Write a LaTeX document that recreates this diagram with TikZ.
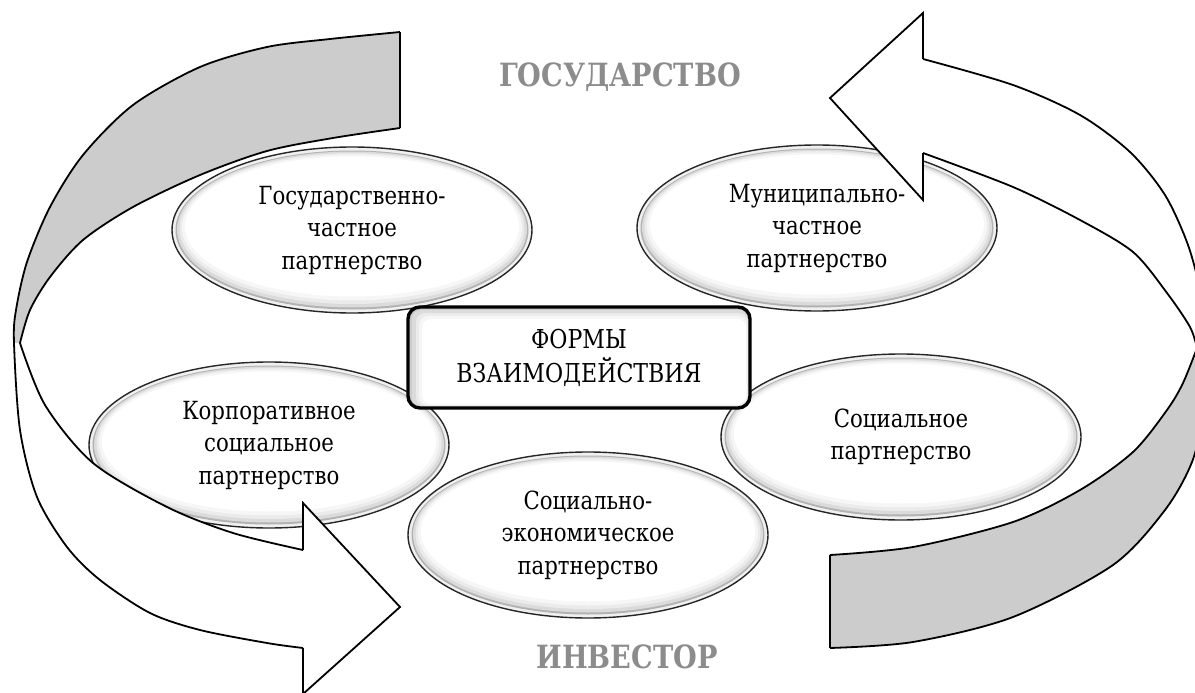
\documentclass[tikz,border=0pt]{standalone}
\usepackage{fontspec}
\setmainfont{DejaVu Serif}[FakeStretch=0.85]
\usetikzlibrary{shapes.geometric}

% soft inner rings of an ellipse
\newcommand\ellring[4]{\fill[#1] ([yshift=#4]path picture bounding box.center) ellipse [x radius=#2, y radius=#3];}
% inner shadow layers of the central box: colour, left, bottom, right, top insets
\newcommand\boxlayer[5]{\fill[#1, rounded corners=9pt] ([xshift=#2, yshift=#3]path picture bounding box.south west) rectangle ([xshift=-#4, yshift=-#5]path picture bounding box.north east);}

\tikzset{
  band/.style={fill=black!20},
  sheet/.style={fill=white},
  outline/.style={draw=black, line width=1.8pt, line join=miter},
  form/.style={ellipse, minimum width=360pt, minimum height=166pt, inner sep=0pt,
    draw=black!85, line width=1.4pt, fill=gray!12, align=center,
    font=\fontsize{25}{32.5}\selectfont,
    path picture={
      \ellring{gray!60}{176.5pt}{79.5pt}{0pt}
      \ellring{gray!28}{175pt}{78pt}{0.5pt}
      \ellring{gray!16}{172.5pt}{75.5pt}{1.5pt}
      \ellring{gray!7}{170pt}{73pt}{2.5pt}
      \ellring{white}{167pt}{70pt}{3.5pt}
    }},
  hub/.style={rectangle, rounded corners=12pt, minimum width=342pt, minimum height=101pt,
    inner sep=0pt, draw=black, line width=3.4pt, fill=gray!40, align=center,
    font=\fontsize{26}{34}\selectfont,
    path picture={
      \boxlayer{gray!28}{4pt}{1pt}{1pt}{3pt}
      \boxlayer{gray!16}{8pt}{2pt}{2pt}{6pt}
      \boxlayer{gray!7}{11pt}{3pt}{3pt}{9pt}
      \boxlayer{white}{14pt}{4pt}{4pt}{12pt}
    }},
  heading/.style={font=\fontsize{32}{38}\selectfont\bfseries, text=black!45, anchor=base, inner sep=0pt}
}

\begin{document}
\begin{tikzpicture}[x=1pt, y=-1pt]
\useasboundingbox (0,0) rectangle (1195,693);
\clip (0,0) rectangle (1195,693);
\fill[white] (0,0) rectangle (1195,693);

% headings
\node[heading] (state) at (620,87) {ГОСУДАРСТВО};
\node[heading] (investor) at (627,668) {ИНВЕСТОР};

% forms of partnership
\node[form] (gcp) at (352,230) {Государственно-\\частное\\партнерство};
\node[form] (mcp) at (817,228) {Муниципально-\\частное\\партнерство};
\node[form] (ksp) at (269,445) {Корпоративное\\социальное\\партнерство};
\node[form] (sep) at (588,535) {Социально-\\экономическое\\партнерство};
\node[form] (sp)  at (901,437) {Социальное\\партнерство};

% central box
\node[hub] (forms) at (579,357.5) {ФОРМЫ\\ВЗАИМОДЕЙСТВИЯ};

% ---- left circular arrow (state -> investor) ----
% back side of the ribbon
\fill[band] plot[smooth] coordinates {(400,32) (330,39) (267,47) (200,67) (133,105) (83,155) (50,207) (27,262) (16,310) (14,343)}
  -- (20,343)
  -- plot[smooth] coordinates {(20,343) (30,310) (50,277) (83,240) (133,207) (200,175) (267,151) (333,138) (400,128)}
  -- cycle;
% front side with the head
\fill[sheet] plot[smooth] coordinates {(14,343) (20,430) (37,497) (67,547) (100,580) (150,613) (200,630) (267,643) (303,648)}
  -- (303,694) -- (400,607) -- (303,503) -- (303,550)
  -- plot[smooth] coordinates {(303,550) (233,533) (167,507) (93,463) (45,405) (20,343)}
  -- cycle;
% edges
\draw[outline] plot[smooth] coordinates {(400,32) (330,39) (267,47) (200,67) (133,105) (83,155) (50,207) (27,262) (16,310) (14,343) (20,430) (37,497) (67,547) (100,580) (150,613) (200,630) (267,643) (303,648)};
\draw[outline] plot[smooth] coordinates {(20,343) (30,310) (50,277) (83,240) (133,207) (200,175) (267,151) (333,138) (400,128)};
\draw[outline] plot[smooth] coordinates {(303,550) (233,533) (167,507) (93,463) (45,405) (20,343)};
\draw[outline] (400,32) -- (400,128);
\draw[outline] (303,550) -- (303,503) -- (400,607) -- (303,694) -- (303,648);

% ---- right circular arrow (investor -> state) ----
% front side with the head
\fill[sheet] plot[smooth] coordinates {(923,59) (1013,85) (1080,115) (1130,152) (1165,195) (1188,245) (1201,295) (1207,350)}
  -- (1197,348)
  -- plot[smooth] coordinates {(1197,348) (1190,327) (1167,293) (1133,252) (1080,220) (1013,187) (923,153)}
  -- (923,200) -- (830,98) -- (923,13) -- cycle;
% back side of the ribbon
\fill[band] plot[smooth] coordinates {(1197,348) (1183,383) (1167,410) (1133,452) (1080,490) (1013,522) (913,547) (830,555)}
  -- (830,648)
  -- plot[smooth] coordinates {(830,648) (913,642) (1013,617) (1113,565) (1165,510) (1192,462) (1204,410) (1207,350)}
  -- cycle;
% edges
\draw[outline] plot[smooth] coordinates {(923,59) (1013,85) (1080,115) (1130,152) (1165,195) (1188,245) (1201,295) (1207,350) (1204,410) (1192,462) (1165,510) (1113,565) (1013,617) (913,642) (830,648)};
\draw[outline] plot[smooth] coordinates {(923,153) (1013,187) (1080,220) (1133,252) (1167,293) (1190,327) (1197,348)};
\draw[outline] plot[smooth] coordinates {(1197,348) (1183,383) (1167,410) (1133,452) (1080,490) (1013,522) (913,547) (830,555)};
\draw[outline] (830,555) -- (830,648);
\draw[outline] (923,153) -- (923,200) -- (830,98) -- (923,13) -- (923,59);
\end{tikzpicture}
\end{document}
